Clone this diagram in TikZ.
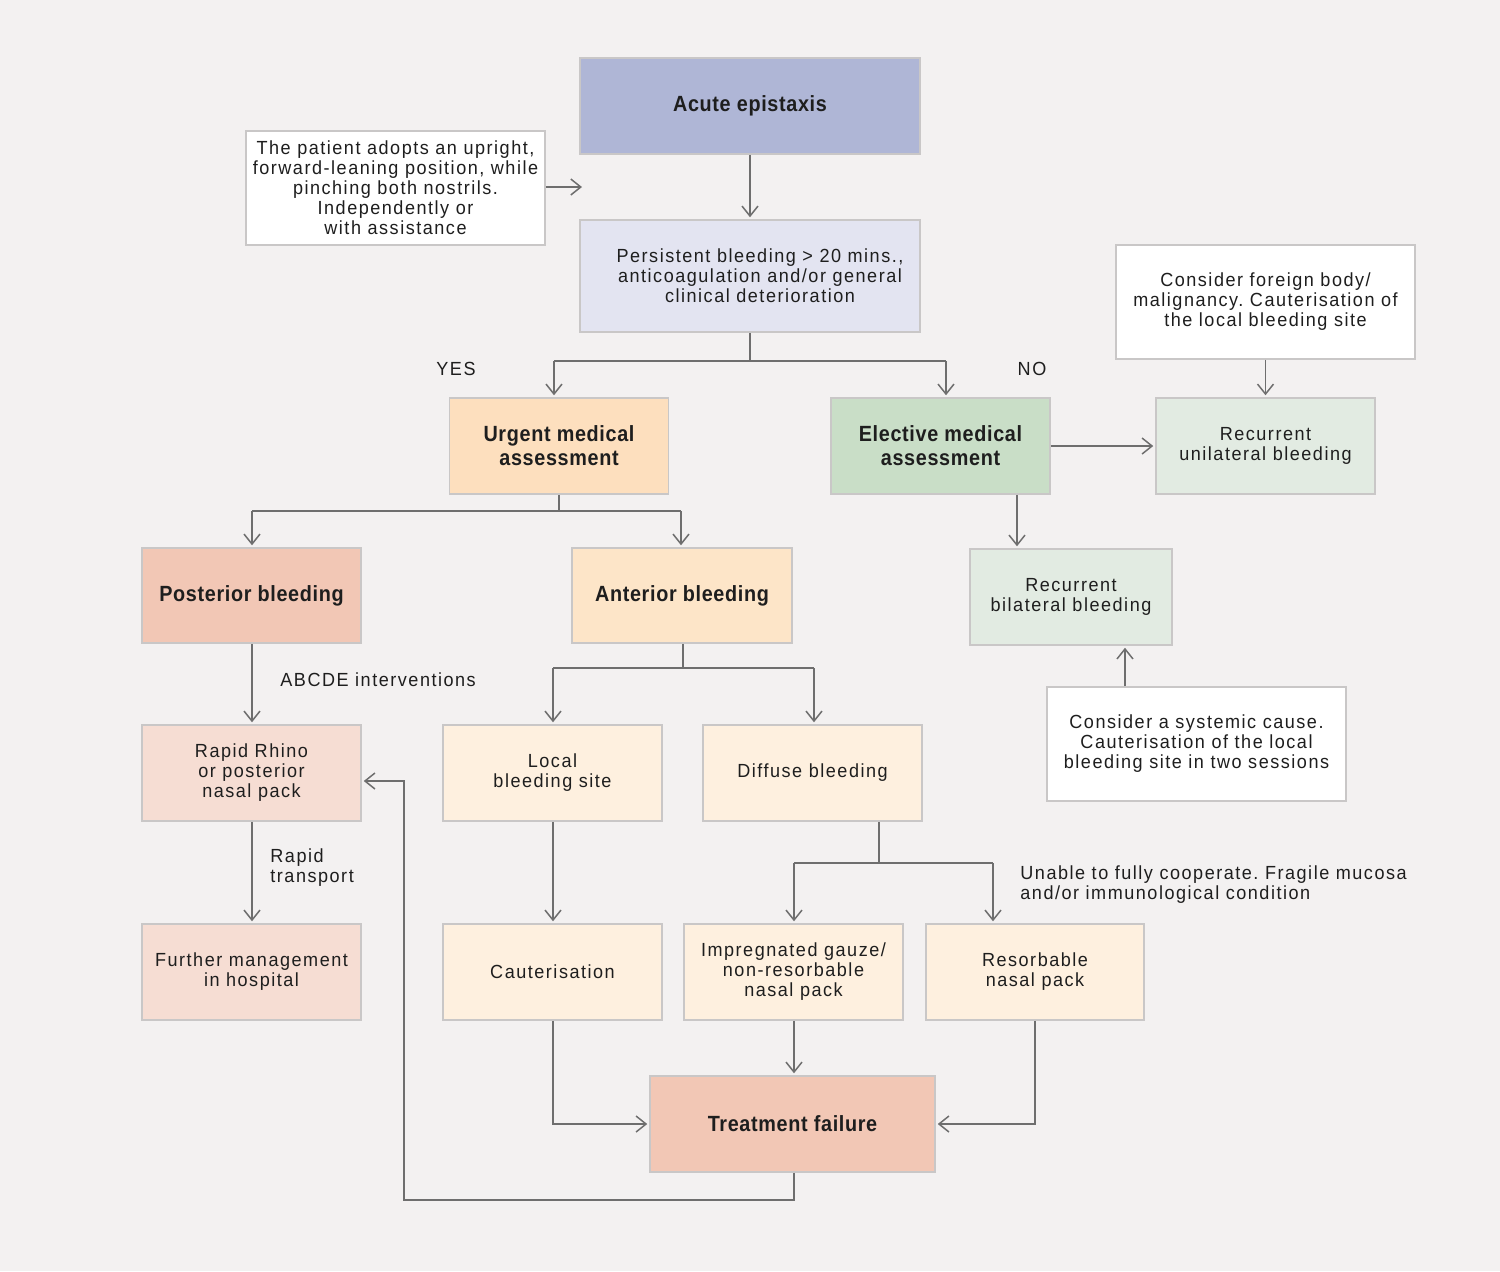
\documentclass[tikz,border=0pt]{standalone}
\usepackage{fontspec}
\setmainfont{Liberation Sans}[FakeStretch=0.95, LetterSpace=8, BoldFeatures={FakeStretch=0.9, LetterSpace=3}]
\usetikzlibrary{arrows.meta}
\frenchspacing
\definecolor{bgcol}{HTML}{F3F1F1}
\definecolor{bordercol}{HTML}{C9C7C7}
\definecolor{linecol}{HTML}{6E6E6E}
\definecolor{textcol}{HTML}{1E1E1E}
\definecolor{cAcute}{HTML}{AFB6D6}
\definecolor{cPersist}{HTML}{E3E4F1}
\definecolor{cUrgent}{HTML}{FDDFBE}
\definecolor{cElective}{HTML}{C9DEC7}
\definecolor{cRecur}{HTML}{E2EBE2}
\definecolor{cPost}{HTML}{F2C7B5}
\definecolor{cAnt}{HTML}{FDE5C8}
\definecolor{cPostLight}{HTML}{F6DDD3}
\definecolor{cAntLight}{HTML}{FEF0DF}
\tikzset{
  box/.style={draw=bordercol, line width=0.75pt, inner sep=0pt, align=center, text=textcol,
    font=\fontsize{9.5}{10}\selectfont\frenchspacing},
  boldbox/.style={box, font=\fontsize{11}{12}\selectfont\bfseries},
  std/.style={minimum width=109.5pt, minimum height=48pt},
  arr/.style={draw=linecol, line width=0.75pt, -{Straight Barb[length=5pt, width=8pt]}, shorten >=1pt},
  ln/.style={draw=linecol, line width=0.75pt},
  lbl/.style={text=textcol, inner sep=0pt, font=\fontsize{9.5}{10}\selectfont\frenchspacing},
}
\begin{document}
\begin{tikzpicture}[x=0.5pt, y=-0.5pt]
\fill[bgcol] (0,0) rectangle (1500,1271);
\useasboundingbox (0,0) rectangle (1500,1271);

% nodes
\node[boldbox, fill=cAcute, minimum width=170pt, minimum height=48pt] (acute) at (750,106) {Acute epistaxis};
\node[box, fill=white, minimum width=149.5pt, minimum height=57pt] (patient) at (395.5,188)
  {The patient adopts an upright,\\forward-leaning position, while\\pinching both nostrils.\\Independently or\\with assistance};
\node[box, fill=cPersist, minimum width=170pt, minimum height=56pt] (persist) at (750,276)
  {\hspace*{10pt}Persistent bleeding > 20 mins.,\\\hspace*{10pt}anticoagulation and/or general\\\hspace*{10pt}clinical deterioration};
\node[boldbox, fill=cUrgent, std] (urgent) at (559,446) {Urgent medical\\assessment};
\node[boldbox, fill=cElective, std] (elective) at (940.5,446) {Elective medical\\assessment};
\node[box, fill=white, minimum width=149.5pt, minimum height=57pt] (foreign) at (1265.5,302)
  {Consider foreign body/\\malignancy. Cauterisation of\\the local bleeding site};
\node[box, fill=cRecur, std] (unilat) at (1265.5,446) {Recurrent\\unilateral bleeding};
\node[box, fill=cRecur, minimum width=101pt, minimum height=48pt] (bilat) at (1071,597) {Recurrent\\bilateral bleeding};
\node[box, fill=white, minimum width=149.5pt, minimum height=57pt] (systemic) at (1196.5,744)
  {Consider a systemic cause.\\Cauterisation of the local\\bleeding site in two sessions};
\node[boldbox, fill=cPost, minimum width=109.5pt, minimum height=47.5pt] (posterior) at (251.5,595.5) {Posterior bleeding};
\node[boldbox, fill=cAnt, minimum width=110pt, minimum height=47.5pt] (anterior) at (682,595.5) {Anterior bleeding};
\node[box, fill=cPostLight, std] (rapid) at (251.5,773) {Rapid Rhino\\or posterior\\nasal pack};
\node[box, fill=cAntLight, std] (local) at (552.5,773) {Local\\bleeding site};
\node[box, fill=cAntLight, std] (diffuse) at (812.5,773) {Diffuse bleeding};
\node[box, fill=cPostLight, std] (further) at (251.5,972) {Further management\\in hospital};
\node[box, fill=cAntLight, std] (caut) at (552.5,972) {Cauterisation};
\node[box, fill=cAntLight, std] (impreg) at (793.5,972) {Impregnated gauze/\\non-resorbable\\nasal pack};
\node[box, fill=cAntLight, minimum width=109pt, minimum height=48pt] (resorb) at (1035,972) {Resorbable\\nasal pack};
\node[boldbox, fill=cPost, minimum width=142.5pt, minimum height=48pt] (failure) at (792.5,1124) {Treatment failure};

% labels
\node[lbl] (yes) at (456,369) {YES};
\node[lbl] (no) at (1032,369) {NO};
\node[lbl, anchor=west] (abcde) at (280,680) {ABCDE interventions};
\node[lbl, anchor=west, align=left] (transport) at (270,868) {Rapid\\transport};
\node[lbl, anchor=west, align=left] (unable) at (1020,885) {Unable to fully cooperate. Fragile mucosa\\and/or immunological condition};

% junction coordinates
\coordinate (patEnd) at (584,187);
\coordinate (j1) at (750,361);
\coordinate (j1l) at (554,361);
\coordinate (j1r) at (946,361);
\coordinate (j2) at (559,511);
\coordinate (j2l) at (252,511);
\coordinate (j2r) at (681,511);
\coordinate (j3) at (683,668);
\coordinate (j3l) at (553,668);
\coordinate (j3r) at (814,668);
\coordinate (j4) at (879,863);
\coordinate (j4l) at (794,863);
\coordinate (j4r) at (993,863);
\coordinate (c1) at (553,1124);
\coordinate (c2) at (1035,1124);
\coordinate (f1) at (794,1200);
\coordinate (f2) at (404,1200);
\coordinate (f3) at (404,781);

% connectors
\draw[arr] (acute) -- (persist);
\draw[arr] (patient.east |- patEnd) -- (patEnd);
\draw[ln] (persist.south) -- (j1);
\draw[ln] (j1l) -- (j1r);
\draw[arr] (j1l) -- (j1l |- urgent.north);
\draw[arr] (j1r) -- (j1r |- elective.north);
\draw[arr] (elective.east) -- (unilat.west);
\draw[arr] (foreign.south) -- (unilat.north);
\draw[arr] (elective.south -| 1017,0) -- (bilat.north -| 1017,0);
\draw[arr] (systemic.north -| 1125,0) -- (bilat.south -| 1125,0);
\draw[ln] (urgent.south) -- (j2);
\draw[ln] (j2l) -- (j2r);
\draw[arr] (j2l) -- (j2l |- posterior.north);
\draw[arr] (j2r) -- (j2r |- anterior.north);
\draw[arr] (posterior.south -| 252,0) -- (rapid.north -| 252,0);
\draw[arr] (rapid.south -| 252,0) -- (further.north -| 252,0);
\draw[ln] (anterior.south -| j3) -- (j3);
\draw[ln] (j3l) -- (j3r);
\draw[arr] (j3l) -- (j3l |- local.north);
\draw[arr] (j3r) -- (j3r |- diffuse.north);
\draw[arr] (local.south -| 553,0) -- (caut.north -| 553,0);
\draw[ln] (diffuse.south -| j4) -- (j4);
\draw[ln] (j4l) -- (j4r);
\draw[arr] (j4l) -- (j4l |- impreg.north);
\draw[arr] (j4r) -- (j4r |- resorb.north);
\draw[arr] (impreg.south -| 794,0) -- (failure.north -| 794,0);
\draw[arr] (caut.south -| c1) -- (c1) -- (failure.west);
\draw[arr] (resorb.south) -- (c2) -- (failure.east);
\draw[arr] (failure.south -| f1) -- (f1) -- (f2) -- (f3) -- (rapid.east |- f3);
\end{tikzpicture}
\end{document}
